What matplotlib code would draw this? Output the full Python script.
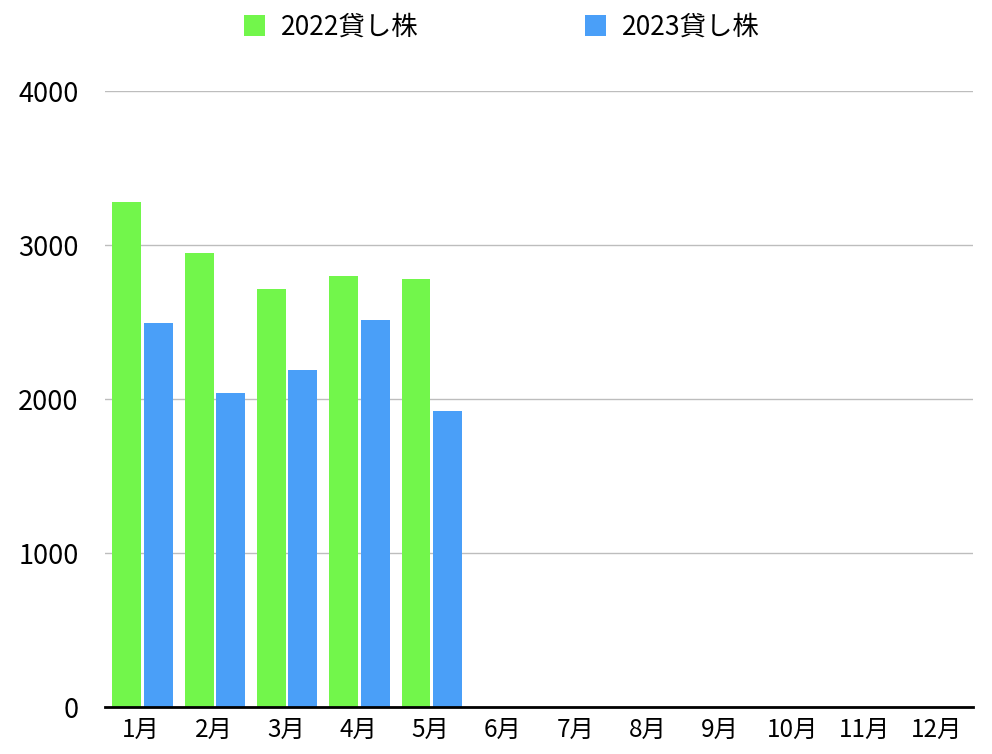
import numpy as np
import matplotlib.pyplot as plt

months = ["1月", "2月", "3月", "4月", "5月", "6月", "7月", "8月", "9月", "10月", "11月", "12月"]
loan_2022 = [3281, 2950, 2716, 2801, 2781]
loan_2023 = [2495, 2041, 2190, 2515, 1924]
labels = ["2022貸し株", "2023貸し株"]
yticks = [0, 1000, 2000, 3000, 4000]

plt.rcParams['font.family'] = ['Noto Sans CJK JP', 'DejaVu Sans']

fig = plt.figure(figsize=(9.92, 7.54), dpi=100)
ax = fig.add_axes([105 / 992, 47 / 754, 868 / 992, 616 / 754])

x = np.arange(len(months))
w = 0.40
b1 = ax.bar(x[:len(loan_2022)] - 0.20, loan_2022, width=w, color="#72f64b", zorder=3)
b2 = ax.bar(x[:len(loan_2023)] + 0.235, loan_2023, width=w, color="#4a9ff8", zorder=3)

ax.set_xlim(-0.5, len(months) - 0.5)
ax.set_ylim(0, 4000)
ax.set_xticks(x)
ax.set_xticklabels(months, fontsize=17.5)
ax.set_yticks(yticks)
ax.set_yticklabels([str(v) for v in yticks], fontsize=19.5)
ax.tick_params(axis='both', length=0)
ax.tick_params(axis='y', pad=19)
ax.tick_params(axis='x', pad=7)

ax.grid(axis='y', color='#bdbdbd', linewidth=1, zorder=0)
for s in ['top', 'right', 'left']:
    ax.spines[s].set_visible(False)
ax.spines['bottom'].set_linewidth(2)
ax.spines['bottom'].set_color('black')
ax.spines['bottom'].set_zorder(4)

fig.legend([b1, b2], labels, loc='center', bbox_to_anchor=(502 / 992, 1 - 27 / 754),
           ncol=2, frameon=False, fontsize=19, handlelength=0.8, handleheight=0.83,
           handletextpad=0.6, columnspacing=6.3)

fig.savefig("out.png", dpi=100)
